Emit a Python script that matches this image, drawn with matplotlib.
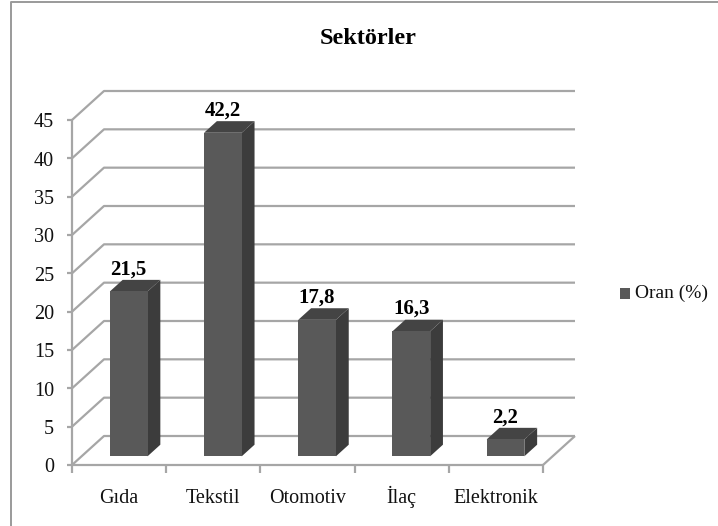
import matplotlib
matplotlib.use('Agg')
import matplotlib.pyplot as plt
from matplotlib.lines import Line2D
from matplotlib.patches import Rectangle

categories = ['Gıda', 'Tekstil', 'Otomotiv', 'İlaç', 'Elektronik']
values = [21.5, 42.2, 17.8, 16.3, 2.2]
value_labels = ['21,5', '42,2', '17,8', '16,3', '2,2']
y_ticks = [0, 5, 10, 15, 20, 25, 30, 35, 40, 45]

W, H = 718, 526
GRID = '#a6a6a6'
FRONT = '#595959'
SIDE = '#3c3c3c'
TOP = '#444444'

plt.rcParams['font.family'] = ['Liberation Serif', 'DejaVu Serif']

fig = plt.figure(figsize=(W / 100, H / 100), dpi=100)
fig.patch.set_facecolor('white')

# front plane of the 3D box: x in categories, y in percent
ax = fig.add_axes([72 / W, 1 - 465 / H, 471 / W, 345 / H])
ax.set_xlim(0, 5)
ax.set_ylim(0, 45)
ax.axis('off')

# depth of the box, in data units per unit of depth
DX = 32 / (471 / 5)
DY = 29 / (345 / 45)


def proj(x, y, d):
    return x + d * DX, y + d * DY


def line(points, **kw):
    xs, ys = zip(*points)
    ax.plot(xs, ys, color=GRID, lw=1.6, clip_on=False, solid_capstyle='butt', **kw)


def face(points, color, z):
    xs, ys = zip(*points)
    ax.fill(xs, ys, color=color, lw=0, clip_on=False, zorder=z)


# gridlines run along the left wall and back wall
for t in y_ticks:
    line([proj(0, t, 0), proj(0, t, 1), proj(5, t, 1)], zorder=1)
    line([(0, t), (-5 / (471 / 5), t)], zorder=1)

# floor edges and axes
line([(0, 0), (5, 0)], zorder=1)
line([(0, 0), (0, 45)], zorder=1)
line([(5, 0), proj(5, 0, 1)], zorder=1)
for i in range(6):
    line([(i, 0), (i, -8 * 45 / 345)], zorder=1)

# bars
BAR_W = 0.4
D0, D1 = 0.3, 0.7
for i, v in enumerate(values):
    x0 = i + 0.5 - BAR_W / 2
    x1 = x0 + BAR_W
    z = 3 + i
    face([proj(x0, 0, D0), proj(x1, 0, D0), proj(x1, v, D0), proj(x0, v, D0)], FRONT, z + 0.2)
    face([proj(x1, 0, D0), proj(x1, 0, D1), proj(x1, v, D1), proj(x1, v, D0)], SIDE, z)
    face([proj(x0, v, D0), proj(x1, v, D0), proj(x1, v, D1), proj(x0, v, D1)], TOP, z)
    lx = proj((x0 + x1) / 2, v, D0)[0]
    ly = proj((x0 + x1) / 2, v, D1)[1]
    ax.annotate(value_labels[i], (lx, ly), xytext=(0, 0.5), textcoords='offset points',
                ha='center', va='bottom', fontsize=15, fontweight='bold', color='black',
                annotation_clip=False, zorder=20)

# axis labels
for t in y_ticks:
    ax.annotate(str(t), (0, t), xytext=(-13, -2), textcoords='offset points', ha='right',
                va='center', fontsize=14.5, color='#111111', annotation_clip=False)
for i, c in enumerate(categories):
    ax.annotate(c, (i + 0.5, 0), xytext=(0, -27.4), textcoords='offset points', ha='center',
                va='baseline', fontsize=14.5, color='#111111', annotation_clip=False)

# title
fig.text(368 / W, 1 - 38 / H, 'Sektörler', ha='center', va='center', fontsize=17.5,
         fontweight='bold', color='black')

# legend
fig.add_artist(Rectangle((620 / W, 1 - 299 / H), 10 / W, 11 / H, transform=fig.transFigure,
                         facecolor=FRONT, edgecolor='none'))
fig.text(635 / W, 1 - 293 / H, 'Oran (%)', ha='left', va='center', fontsize=14, color='#111111')

# outer chart border, only left and top fall inside the image
fig.add_artist(Line2D([11 / W, 11 / W, 1], [0, 1 - 2 / H, 1 - 2 / H], transform=fig.transFigure,
                      color='#9a9a9a', lw=1.4))

fig.savefig('out.png', dpi=100)
